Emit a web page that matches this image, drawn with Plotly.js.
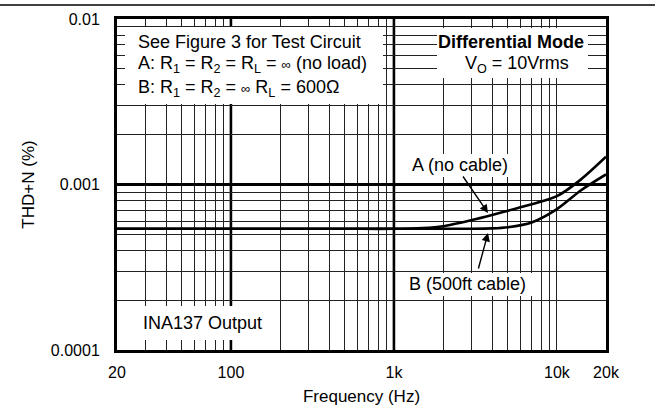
<!DOCTYPE html>
<html>
<head>
<meta charset="utf-8">
<script src="https://cdn.plot.ly/plotly-3.0.1.min.js"></script>
<style>html,body{margin:0;padding:0;background:#fff;}#chart{width:655px;height:414px;}</style>
</head>
<body>
<div id="chart"></div>
<script>
// ---- data ----
const freqHz = [20, 100, 500, 1000, 1500, 2000, 3000, 4000, 5000, 7000, 10000, 14000, 20000];
const thdA_noCable = [0.00054, 0.00054, 0.00054, 0.00054, 0.000546, 0.00056, 0.00061, 0.000655, 0.000695, 0.00076, 0.00085, 0.00107, 0.00147];
const thdB_500ftCable = [0.00054, 0.00054, 0.00054, 0.00054, 0.00054, 0.00054, 0.00054, 0.000543, 0.000552, 0.00059, 0.00071, 0.00092, 0.00115];

const xTickVals = [20, 100, 1000, 10000, 20000];
const xTickText = ['20', '100', '1k', '10k', '20k'];
const yTickVals = [0.0001, 0.001, 0.01];
const yTickText = ['0.0001', '0.001', '0.01'];
const xMinorGrid = [30, 40, 50, 60, 70, 80, 90, 200, 300, 400, 500, 600, 700, 800, 900,
                    2000, 3000, 4000, 5000, 6000, 7000, 8000, 9000, 10000];
const yMinorGrid = [0.0002, 0.0003, 0.0004, 0.0005, 0.0006, 0.0007, 0.0008, 0.0009,
                    0.002, 0.003, 0.004, 0.005, 0.006, 0.007, 0.008, 0.009];
const xMajorGrid = [100, 1000];

// ---- layout helpers (pixel -> paper) ----
const L = 117, R = 606, T = 19, B = 350;
const px = x => (x - L) / (R - L);
const py = y => (B - y) / (B - T);
const FONT = 'Liberation Sans, Arial, Helvetica, sans-serif';
const INF = '<span style="font-size:13px">\u221E</span>';

const traces = [
  {x: freqHz, y: thdA_noCable, type: 'scatter', mode: 'lines', name: 'A (no cable)',
   line: {color: '#000', width: 2.6, shape: 'spline', smoothing: 0.8}, hoverinfo: 'skip'},
  {x: freqHz, y: thdB_500ftCable, type: 'scatter', mode: 'lines', name: 'B (500ft cable)',
   line: {color: '#000', width: 2.6, shape: 'spline', smoothing: 0.8}, hoverinfo: 'skip'}
];

const whiteBox = (x0, y0, x1, y1) => ({type: 'rect', xref: 'paper', yref: 'paper',
  x0: px(x0), x1: px(x1), y0: py(y1), y1: py(y0), fillcolor: '#fff', line: {width: 0}, layer: 'above'});

const shapes = [];
xMajorGrid.forEach(v => shapes.push({type: 'line', xref: 'x', yref: 'paper', x0: v, x1: v, y0: 0, y1: 1,
  line: {color: '#000', width: 2.6}, layer: 'below'}));
shapes.push(whiteBox(125, 27, 383, 104));
shapes.push(whiteBox(437, 28, 588, 78));
shapes.push(whiteBox(404, 154, 516, 177));
shapes.push(whiteBox(401, 273, 534, 296));
shapes.push(whiteBox(125, 306, 258, 340));
shapes.push({type: 'line', xref: 'paper', yref: 'paper', x0: px(0), x1: px(655), y0: py(5), y1: py(5),
  line: {color: '#000', width: 1.5}});

const txt = (text, x, y, xanchor, extra) => Object.assign({
  text: text, xref: 'paper', yref: 'paper', x: px(x), y: py(y), xanchor: xanchor, yanchor: 'middle',
  showarrow: false, font: {family: FONT, size: 18, color: '#000'}}, extra || {});

const annotations = [
  txt('See Figure 3 for Test Circuit', 136, 42, 'left'),
  txt('A: R<sub>1</sub> = R<sub>2</sub> = R<sub>L</sub> = ' + INF + ' (no load)', 136, 65, 'left'),
  txt('B: R<sub>1</sub> = R<sub>2</sub> = ' + INF + ' R<sub>L</sub> = 600\u03A9', 136, 88, 'left'),
  txt('<b>Differential Mode</b>', 511, 42, 'center'),
  txt('V<sub>O</sub> = 10Vrms', 517, 65, 'center'),
  txt('A (no cable)', 460, 165, 'center'),
  txt('B (500ft cable)', 467, 284, 'center'),
  txt('INA137 Output', 141, 323, 'left'),
  {text: '', xref: 'paper', yref: 'paper', x: px(488), y: py(213), showarrow: true,
   ax: -26, ay: -38, arrowhead: 2, arrowsize: 1.2, arrowwidth: 1.4, arrowcolor: '#000'},
  {text: '', xref: 'paper', yref: 'paper', x: px(488), y: py(233), showarrow: true,
   ax: -10, ay: 37, arrowhead: 2, arrowsize: 1.2, arrowwidth: 1.4, arrowcolor: '#000'}
];

const layout = {
  width: 655, height: 414,
  margin: {l: L, r: 655 - R, t: T, b: 414 - B},
  paper_bgcolor: '#fff', plot_bgcolor: '#fff',
  showlegend: false,
  font: {family: FONT, color: '#000'},
  xaxis: {
    type: 'log', range: [Math.log10(20), Math.log10(20000)],
    tickmode: 'array', tickvals: xTickVals, ticktext: xTickText,
    showgrid: false, zeroline: false,
    showline: true, mirror: true, linecolor: '#000', linewidth: 3,
    ticks: 'outside', ticklen: 6, tickcolor: 'rgba(0,0,0,0)',
    tickfont: {family: FONT, size: 16, color: '#000'},
    minor: {tickmode: 'array', tickvals: xMinorGrid, showgrid: true, gridcolor: '#222', gridwidth: 1, ticks: ''},
    title: {text: 'Frequency (Hz)', font: {family: FONT, size: 17, color: '#000'}, standoff: 10}
  },
  yaxis: {
    type: 'log', range: [-4, -2],
    tickmode: 'array', tickvals: yTickVals, ticktext: yTickText,
    showgrid: true, gridcolor: '#000', gridwidth: 2.6, zeroline: false,
    showline: true, mirror: true, linecolor: '#000', linewidth: 3,
    ticks: 'outside', ticklen: 11, tickcolor: 'rgba(0,0,0,0)',
    tickfont: {family: FONT, size: 16, color: '#000'},
    minor: {tickmode: 'array', tickvals: yMinorGrid, showgrid: true, gridcolor: '#222', gridwidth: 1, ticks: ''},
    title: {text: 'THD+N (%)', font: {family: FONT, size: 17, color: '#000'}, standoff: 12}
  },
  shapes: shapes,
  annotations: annotations
};

Plotly.newPlot('chart', traces, layout, {staticPlot: true, displayModeBar: false});
</script>
</body>
</html>
